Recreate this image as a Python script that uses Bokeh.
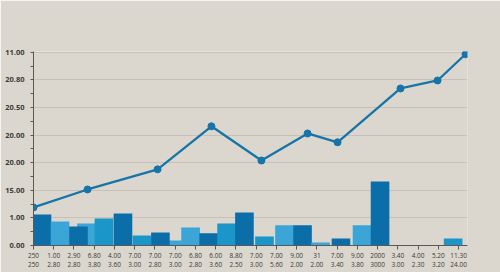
from bokeh.plotting import figure
from bokeh.models import FixedTicker, ColumnDataSource, Range1d
from bokeh.embed import file_html
from bokeh.resources import INLINE

# ---- data ----
x_top_labels = ["250", "1.00", "2.90", "6.80", "4.00", "7.00", "7.00", "7.00", "6.80", "6.00", "8.80",
                "7.00", "7.00", "9.00", "31", "7.00", "9.00", "2000", "3.40", "4.00", "5.20", "11.30"]
x_bottom_labels = ["250", "2.80", "2.80", "3.80", "3.60", "3.00", "2.80", "3.00", "2.80", "3.60", "2.50",
                   "3.00", "5.60", "2.00", "2.00", "3.40", "3.80", "3000", "3.00", "2.30", "3.20", "24.00"]
y_tick_labels = ["0.00", "1.00", "15.00", "20.00", "20.00", "20.50", "20.80", "11.00"]

bar_pos = [2.62, 0.42, 1.31, 2.22, 3.48, 4.42, 5.36, 7.02, 6.27, 7.76, 8.65, 9.54, 10.42,
           11.41, 12.40, 13.29, 14.18, 15.19, 16.23, 17.12, 20.73]
bar_val = [0.80, 1.12, 0.87, 0.69, 0.98, 1.16, 0.36, 0.18, 0.47, 0.65, 0.44, 0.80, 1.20,
           0.33, 0.73, 0.73, 0.11, 0.25, 0.73, 2.32, 0.25]
bar_tone = ["light", "dark", "light", "dark", "cyan", "dark", "cyan", "light", "dark", "light", "dark",
            "cyan", "dark", "cyan", "light", "dark", "light", "dark", "light", "dark", "cyan"]

line_x = [0.0, 2.67, 6.13, 8.79, 11.26, 13.54, 15.02, 18.13, 19.96, 21.34]
line_y = [1.38, 2.03, 2.76, 4.32, 3.08, 4.06, 3.74, 5.69, 5.98, 6.93]

# ---- styles ----
tone_colors = {"dark": "#0b6ea9", "light": "#3aa5d6", "cyan": "#1b96c8"}
bg = "#dbd7ce"
line_color = "#1675a8"

p = figure(width=500, height=272, output_backend="svg", toolbar_location=None,
           x_range=Range1d(0, 21.44), y_range=Range1d(0, 7.03),
           min_border_left=33, min_border_right=33, min_border_top=51, min_border_bottom=27)
p.background_fill_color = bg
p.border_fill_color = bg
p.outline_line_color = None

src = ColumnDataSource(dict(x=bar_pos, top=bar_val,
                            color=[tone_colors[t] for t in bar_tone]))
p.vbar(x="x", top="top", bottom=0, width=0.92, fill_color="color", line_color=None, source=src)

p.line(line_x, line_y, line_color=line_color, line_width=2.3)
p.scatter(line_x, line_y, size=7, fill_color=line_color, line_color=line_color)

# y axis
yt = list(range(len(y_tick_labels)))
p.yaxis.ticker = FixedTicker(ticks=yt, minor_ticks=[i + 0.5 for i in yt[:-1]])
p.yaxis.major_label_overrides = {i: s for i, s in zip(yt, y_tick_labels)}
p.yaxis.major_label_text_font = "Open Sans"
p.yaxis.major_label_text_font_size = "7.5px"
p.yaxis.major_label_text_font_style = "bold"
p.yaxis.major_label_text_color = "#3a3a38"
p.yaxis.major_label_standoff = 6
p.yaxis.major_tick_out = 3
p.yaxis.major_tick_in = 0
p.yaxis.minor_tick_out = 3
p.yaxis.minor_tick_in = 0
p.yaxis.axis_line_color = "#5a5954"
p.yaxis.major_tick_line_color = "#5a5954"
p.yaxis.minor_tick_line_color = "#5a5954"

# x axis
xt = list(range(len(x_top_labels)))
p.xaxis.ticker = FixedTicker(ticks=xt)
p.xaxis.major_label_overrides = {i: a + "\n" + b for i, a, b in zip(xt, x_top_labels, x_bottom_labels)}
p.xaxis.major_label_text_font = "Open Sans"
p.xaxis.major_label_text_font_size = "6.5px"
p.xaxis.major_label_text_color = "#3a3a38"
p.xaxis.major_label_text_line_height = 1.05
p.xaxis.major_label_standoff = 1
p.xaxis.major_tick_out = 4
p.xaxis.major_tick_in = 0
p.xaxis.minor_tick_line_color = None
p.xaxis.axis_line_color = "#5a5954"
p.xaxis.major_tick_line_color = "#5a5954"

p.xgrid.grid_line_color = None
p.ygrid.grid_line_color = "#c6c2b9"
p.ygrid.grid_line_width = 1

open("out.html", "w").write(file_html(p, INLINE))
